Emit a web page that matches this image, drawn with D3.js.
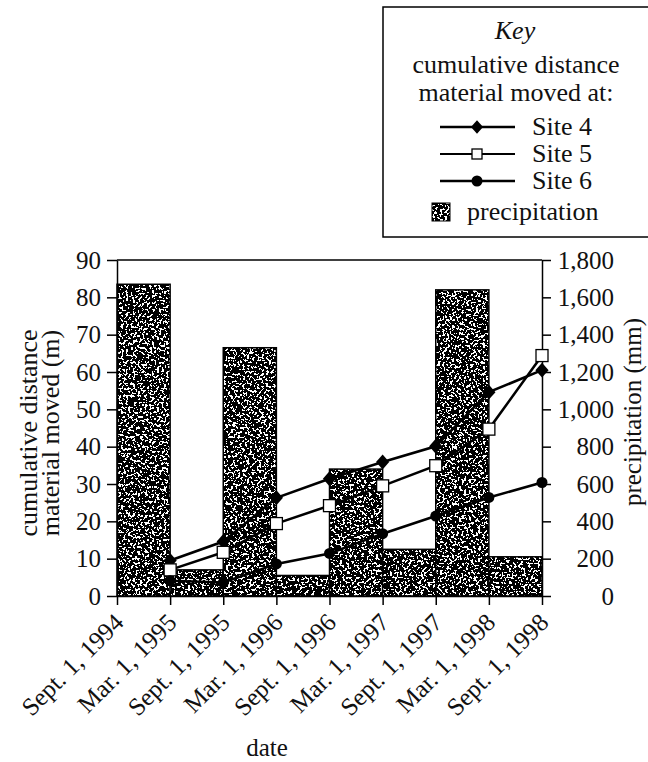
<!DOCTYPE html>
<html lang="en">
<head>
  <meta charset="UTF-8">
  <title>Cumulative distance material moved</title>
  <style>
    body { margin: 0; background: #fff; }
    svg text { font-family: "Liberation Serif", "DejaVu Serif", serif; fill: #111; }
  </style>
</head>
<body>
<script src="https://d3js.org/d3.v7.min.js"></script>
<svg id="chart" xmlns="http://www.w3.org/2000/svg" width="648" height="762"></svg>
<script>
  // values
  const dates = ["Sept. 1, 1994", "Mar. 1, 1995", "Sept. 1, 1995", "Mar. 1, 1996",
    "Sept. 1, 1996", "Mar. 1, 1997", "Sept. 1, 1997", "Mar. 1, 1998", "Sept. 1, 1998"];
  // precipitation (mm) for each half-year between two dates
  const precipitation = [1670, 140, 1330, 110, 680, 250, 1640, 210];
  // cumulative distance moved (m), nothing measured on the first date
  const site4 = [null, 9.5, 14.6, 26.3, 31.4, 35.9, 40.1, 54.6, 60.5];
  const site5 = [null, 7.0, 11.7, 19.4, 24.2, 29.5, 34.9, 44.7, 64.4];
  const site6 = [null, 4.1, 3.6, 8.6, 11.4, 16.7, 21.4, 26.4, 30.4];
  const leftTicks = [0, 10, 20, 30, 40, 50, 60, 70, 80, 90];
  const rightTicks = [0, 200, 400, 600, 800, 1000, 1200, 1400, 1600, 1800];

  const svg = d3.select("#chart");
  const pLeft = 117, pRight = 542, pTop = 260, pBottom = 596;
  const fs = 25;

  const x = d3.scalePoint().domain(dates).range([pLeft, pRight]);
  const yL = d3.scaleLinear().domain([0, 90]).range([pBottom, pTop]);
  const yR = d3.scaleLinear().domain([0, 1800]).range([pBottom, pTop]);

  // stipple texture for the precipitation bars
  const defs = svg.append("defs");
  const f = defs.append("filter").attr("id", "noise")
          .attr("x", 0).attr("y", 0).attr("width", "100%").attr("height", "100%");
  f.append("feTurbulence").attr("type", "fractalNoise")
          .attr("baseFrequency", 0.42).attr("numOctaves", 2).attr("seed", 7);
  f.append("feColorMatrix").attr("type", "matrix")
          .attr("values", "0 0 0 0 0  0 0 0 0 0  0 0 0 0 0  -4 0 0 0 2.78");
  f.append("feComponentTransfer").append("feFuncA")
          .attr("type", "discrete").attr("tableValues", "0 1");

  const pat = defs.append("pattern").attr("id", "stipple")
          .attr("patternUnits", "userSpaceOnUse")
          .attr("width", 660).attr("height", 420);
  pat.append("rect").attr("width", 660).attr("height", 420).attr("fill", "#fff");
  pat.append("rect").attr("width", 660).attr("height", 420)
          .attr("fill", "#000").attr("filter", "url(#noise)");

  // bars
  svg.append("g").selectAll("rect")
          .data(precipitation)
          .join("rect")
          .attr("x", (d, i) => x(dates[i]))
          .attr("width", (d, i) => x(dates[i + 1]) - x(dates[i]))
          .attr("y", d => yR(d))
          .attr("height", d => yR(0) - yR(d))
          .attr("fill", "url(#stipple)")
          .attr("stroke", "#000")
          .attr("stroke-width", 1.5);

  // frame top
  svg.append("line")
          .attr("x1", pLeft).attr("x2", pRight).attr("y1", pTop).attr("y2", pTop)
          .attr("stroke", "#000").attr("stroke-width", 1.5);

  const axL = svg.append("g").attr("transform", `translate(${pLeft},0)`)
          .call(d3.axisLeft(yL).tickValues(leftTicks).tickSize(10).tickPadding(6).tickSizeOuter(0));
  const axR = svg.append("g").attr("transform", `translate(${pRight},0)`)
          .call(d3.axisRight(yR).tickValues(rightTicks).tickSize(9).tickSizeOuter(0)
                  .tickFormat(d3.format(",")));
  axR.selectAll("text").attr("x", 72).attr("text-anchor", "end");
  const axB = svg.append("g").attr("transform", `translate(0,${pBottom})`)
          .call(d3.axisBottom(x).tickSize(9).tickSizeOuter(0).tickFormat(""));

  [axL, axR, axB].forEach(a => {
    a.selectAll("path, line").attr("stroke", "#000").attr("stroke-width", 1.5);
    a.selectAll("text").attr("font-size", fs)
            .attr("font-family", "Liberation Serif").attr("fill", "#111");
  });

  // rotated date labels
  svg.append("g").selectAll("text")
          .data(dates)
          .join("text")
          .attr("transform", d => `translate(${x(d) + 8},${pBottom + 28}) rotate(-45)`)
          .attr("text-anchor", "end")
          .attr("font-size", fs)
          .text(d => d);

  svg.append("text").attr("x", 267).attr("y", 756)
          .attr("text-anchor", "middle").attr("font-size", fs).text("date");

  // axis titles
  const yt = svg.append("text").attr("transform", "translate(37,433) rotate(-90)")
          .attr("text-anchor", "middle").attr("font-size", 26);
  yt.append("tspan").attr("x", 0).attr("y", 0).text("cumulative distance");
  yt.append("tspan").attr("x", 0).attr("y", 22).text("material moved (m)");

  svg.append("text").attr("transform", "translate(641,412) rotate(-90)")
          .attr("text-anchor", "middle").attr("font-size", fs).text("precipitation (mm)");

  // lines
  const series = [
    { name: "Site 4", values: site4, marker: "diamond" },
    { name: "Site 5", values: site5, marker: "square" },
    { name: "Site 6", values: site6, marker: "circle" }
  ];

  const line = d3.line()
          .defined(d => d != null)
          .x((d, i) => x(dates[i]))
          .y(d => yL(d));

  function drawMarker(g, type, cx, cy, s) {
    if (type === "diamond") {
      g.append("path")
              .attr("d", `M${cx},${cy - s * 0.62}L${cx + s * 0.55},${cy}L${cx},${cy + s * 0.62}L${cx - s * 0.55},${cy}Z`)
              .attr("fill", "#000");
    } else if (type === "square") {
      g.append("rect").attr("x", cx - s / 2).attr("y", cy - s / 2)
              .attr("width", s).attr("height", s)
              .attr("fill", "#fff").attr("stroke", "#000").attr("stroke-width", 1.3);
    } else {
      g.append("circle").attr("cx", cx).attr("cy", cy).attr("r", s / 2).attr("fill", "#000");
    }
  }

  series.forEach(s => {
    svg.append("path")
            .datum(s.values)
            .attr("d", line)
            .attr("fill", "none")
            .attr("stroke", "#000")
            .attr("stroke-width", 2.6);
  });
  series.forEach(s => {
    const g = svg.append("g");
    s.values.forEach((v, i) => {
      if (v != null) drawMarker(g, s.marker, x(dates[i]), yL(v), s.marker === "circle" ? 11 : 12);
    });
  });

  // key
  const key = svg.append("g");
  key.append("rect").attr("x", 383).attr("y", 7).attr("width", 275).attr("height", 230)
          .attr("fill", "#fff").attr("stroke", "#000").attr("stroke-width", 1.5);
  key.append("text").attr("x", 515).attr("y", 39).attr("text-anchor", "middle")
          .attr("font-size", 26).attr("font-style", "italic").text("Key");
  key.append("text").attr("x", 516).attr("y", 73).attr("text-anchor", "middle")
          .attr("font-size", 26).text("cumulative distance");
  key.append("text").attr("x", 516).attr("y", 101).attr("text-anchor", "middle")
          .attr("font-size", 26).text("material moved at:");

  const keyY = [127, 154, 181];
  series.forEach((s, i) => {
    key.append("line").attr("x1", 440).attr("x2", 515)
            .attr("y1", keyY[i]).attr("y2", keyY[i])
            .attr("stroke", "#000").attr("stroke-width", i === 1 ? 2 : 2.6);
    drawMarker(key, s.marker, 477, keyY[i], s.marker === "square" ? 10 : 11);
    key.append("text").attr("x", 532).attr("y", keyY[i] + 8)
            .attr("font-size", 26).text(s.name);
  });
  key.append("rect").attr("x", 432).attr("y", 203).attr("width", 18).attr("height", 18)
          .attr("fill", "url(#stipple)").attr("stroke", "#000").attr("stroke-width", 1);
  key.append("text").attr("x", 467).attr("y", 220).attr("font-size", 26).text("precipitation");
</script>
</body>
</html>
